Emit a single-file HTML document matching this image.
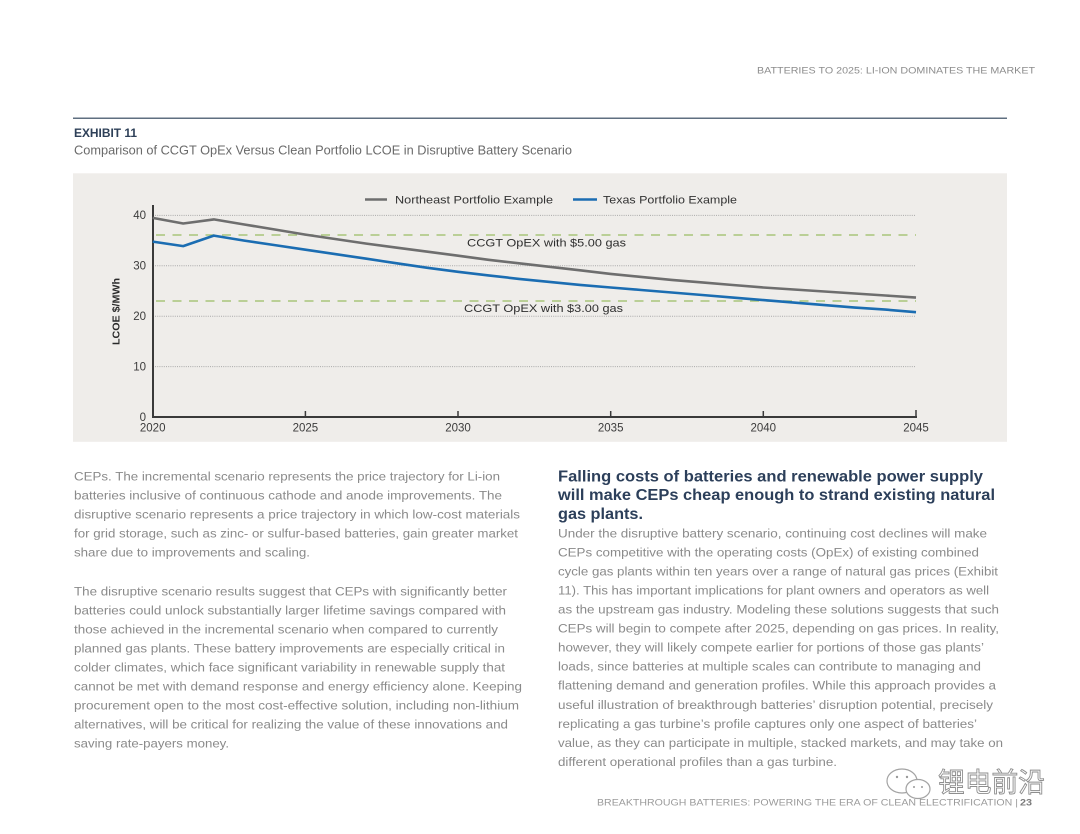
<!DOCTYPE html>
<html>
<head>
<meta charset="utf-8">
<style>
  html, body { margin:0; padding:0; background:#ffffff; }
  body { width:1080px; height:834px; overflow:hidden; }
  svg { display:block; }
  .sans { font-family:"Liberation Sans", "Noto Sans CJK SC", sans-serif; }
  .body { font-size:12.2px; fill:#8a8a8a; }
  .head { font-size:16px; font-weight:bold; fill:#2c3f5a; }
  .tick { font-size:11.5px; fill:#3c3c3c; }
</style>
</head>
<body>
<svg width="1080" height="834" viewBox="0 0 1080 834" xmlns="http://www.w3.org/2000/svg" class="sans">
  <rect width="1080" height="834" fill="#ffffff"/>

  <!-- Header -->
  <text x="757" y="73.5" font-size="9.6" fill="#8c8c8c" textLength="278" lengthAdjust="spacingAndGlyphs">BATTERIES TO 2025: LI-ION DOMINATES THE MARKET</text>
  <line x1="73" y1="118.3" x2="1007" y2="118.3" stroke="#5f6f80" stroke-width="1.5"/>

  <text x="74" y="137" font-size="11.5" font-weight="bold" fill="#2e4058" textLength="63" lengthAdjust="spacingAndGlyphs">EXHIBIT 11</text>
  <text x="74" y="154.5" font-size="12.5" fill="#6a6a6a" textLength="498" lengthAdjust="spacingAndGlyphs">Comparison of CCGT OpEx Versus Clean Portfolio LCOE in Disruptive Battery Scenario</text>

  <!-- Chart box -->
  <rect x="73" y="173.3" width="934" height="268.5" fill="#efedea"/>

  <!-- Gridlines -->
  <g stroke="#a9a9a9" stroke-width="1" stroke-dasharray="1,1.2">
    <line x1="155" y1="215.4" x2="916" y2="215.4"/>
    <line x1="155" y1="265.8" x2="916" y2="265.8"/>
    <line x1="155" y1="316.2" x2="916" y2="316.2"/>
    <line x1="155" y1="366.6" x2="916" y2="366.6"/>
  </g>

  <!-- Dashed CCGT lines -->
  <g stroke="#a8c57a" stroke-width="1.6" stroke-dasharray="9,7.5">
    <line x1="156" y1="235" x2="916" y2="235"/>
    <line x1="156" y1="301" x2="916" y2="301"/>
  </g>

  <!-- Axes -->
  <line x1="153" y1="205" x2="153" y2="418" stroke="#3a3a3a" stroke-width="2"/>
  <line x1="152" y1="417" x2="917" y2="417" stroke="#3a3a3a" stroke-width="2"/>
  <g stroke="#3a3a3a" stroke-width="1.5">
    <line x1="305.4" y1="411" x2="305.4" y2="417"/>
    <line x1="458" y1="411" x2="458" y2="417"/>
    <line x1="610.7" y1="411" x2="610.7" y2="417"/>
    <line x1="763.3" y1="411" x2="763.3" y2="417"/>
    <line x1="916" y1="410" x2="916" y2="417"/>
  </g>

  <!-- Series -->
  <polyline fill="none" stroke="#6e6e6e" stroke-width="2.6" stroke-linejoin="round"
    points="152.7,217.9 183.2,223.5 213.8,219.4 244.3,224.5 274.8,229.5 305.4,234.6 335.9,239.1 366.4,243.6 396.9,247.7 427.5,251.7 458,255.7 488.5,259.8 519.1,263.3 549.6,266.8 580.1,270.3 610.7,273.9 641.2,276.9 671.7,279.9 702.2,282.4 732.8,285 763.3,287.5 793.8,289.5 824.4,291.5 854.9,293.5 885.4,295.5 916,297.6"/>
  <polyline fill="none" stroke="#1b6db2" stroke-width="2.6" stroke-linejoin="round"
    points="152.7,241.6 183.2,246.1 213.8,235.6 244.3,240.6 274.8,245.1 305.4,249.7 335.9,254.2 366.4,258.7 396.9,263.3 427.5,267.8 458,271.8 488.5,275.4 519.1,278.9 549.6,281.9 580.1,284.9 610.7,287.5 641.2,290 671.7,292.5 702.2,295 732.8,297.6 763.3,300.1 793.8,302.6 824.4,305.1 854.9,307.6 885.4,309.6 916,312.2"/>

  <!-- Legend -->
  <line x1="365" y1="199.5" x2="387" y2="199.5" stroke="#6e6e6e" stroke-width="2.6"/>
  <text x="395" y="203.3" font-size="11" fill="#333" textLength="158" lengthAdjust="spacingAndGlyphs">Northeast Portfolio Example</text>
  <line x1="573" y1="199.5" x2="597" y2="199.5" stroke="#1b6db2" stroke-width="2.6"/>
  <text x="603" y="203.3" font-size="11" fill="#333" textLength="134" lengthAdjust="spacingAndGlyphs">Texas Portfolio Example</text>

  <!-- CCGT labels -->
  <text x="467" y="246.7" font-size="11" fill="#2e2e2e" textLength="159" lengthAdjust="spacingAndGlyphs">CCGT OpEX with $5.00 gas</text>
  <text x="464" y="312" font-size="11" fill="#2e2e2e" textLength="159" lengthAdjust="spacingAndGlyphs">CCGT OpEX with $3.00 gas</text>

  <!-- Y tick labels -->
  <g class="tick" text-anchor="end">
    <text x="146" y="219.2">40</text>
    <text x="146" y="269.6">30</text>
    <text x="146" y="320">20</text>
    <text x="146" y="370.4">10</text>
    <text x="146" y="420.8">0</text>
  </g>
  <!-- X tick labels -->
  <g class="tick" text-anchor="middle">
    <text x="152.7" y="431.3">2020</text>
    <text x="305.4" y="431.3">2025</text>
    <text x="458" y="431.3">2030</text>
    <text x="610.7" y="431.3">2035</text>
    <text x="763.3" y="431.3">2040</text>
    <text x="916" y="431.3">2045</text>
  </g>
  <text transform="translate(119.5,311.5) rotate(-90)" text-anchor="middle" font-size="10" font-weight="bold" fill="#2a2a2a" textLength="67" lengthAdjust="spacingAndGlyphs">LCOE $/MWh</text>

  <!-- Left column body -->
  <g class="body">
    <text x="74" y="480.3" textLength="426" lengthAdjust="spacingAndGlyphs">CEPs. The incremental scenario represents the price trajectory for Li-ion</text>
    <text x="74" y="499.3" textLength="428" lengthAdjust="spacingAndGlyphs">batteries inclusive of continuous cathode and anode improvements. The</text>
    <text x="74" y="518.3" textLength="446" lengthAdjust="spacingAndGlyphs">disruptive scenario represents a price trajectory in which low-cost materials</text>
    <text x="74" y="537.3" textLength="444" lengthAdjust="spacingAndGlyphs">for grid storage, such as zinc- or sulfur-based batteries, gain greater market</text>
    <text x="74" y="556.3" textLength="236" lengthAdjust="spacingAndGlyphs">share due to improvements and scaling.</text>

    <text x="74" y="595.3" textLength="433" lengthAdjust="spacingAndGlyphs">The disruptive scenario results suggest that CEPs with significantly better</text>
    <text x="74" y="614.3" textLength="432" lengthAdjust="spacingAndGlyphs">batteries could unlock substantially larger lifetime savings compared with</text>
    <text x="74" y="633.3" textLength="424" lengthAdjust="spacingAndGlyphs">those achieved in the incremental scenario when compared to currently</text>
    <text x="74" y="652.3" textLength="431" lengthAdjust="spacingAndGlyphs">planned gas plants. These battery improvements are especially critical in</text>
    <text x="74" y="671.3" textLength="431" lengthAdjust="spacingAndGlyphs">colder climates, which face significant variability in renewable supply that</text>
    <text x="74" y="690.3" textLength="448" lengthAdjust="spacingAndGlyphs">cannot be met with demand response and energy efficiency alone. Keeping</text>
    <text x="74" y="709.3" textLength="445" lengthAdjust="spacingAndGlyphs">procurement open to the most cost-effective solution, including non-lithium</text>
    <text x="74" y="728.3" textLength="434" lengthAdjust="spacingAndGlyphs">alternatives, will be critical for realizing the value of these innovations and</text>
    <text x="74" y="747.3" textLength="155" lengthAdjust="spacingAndGlyphs">saving rate-payers money.</text>
  </g>

  <!-- Right column heading -->
  <g class="head">
    <text x="558" y="481.3" textLength="425" lengthAdjust="spacingAndGlyphs">Falling costs of batteries and renewable power supply</text>
    <text x="558" y="500" textLength="437" lengthAdjust="spacingAndGlyphs">will make CEPs cheap enough to strand existing natural</text>
    <text x="558" y="518.8" textLength="85" lengthAdjust="spacingAndGlyphs">gas plants.</text>
  </g>

  <!-- Right column body -->
  <g class="body">
    <text x="558" y="537.3" textLength="429" lengthAdjust="spacingAndGlyphs">Under the disruptive battery scenario, continuing cost declines will make</text>
    <text x="558" y="556.3" textLength="421" lengthAdjust="spacingAndGlyphs">CEPs competitive with the operating costs (OpEx) of existing combined</text>
    <text x="558" y="575.3" textLength="440" lengthAdjust="spacingAndGlyphs">cycle gas plants within ten years over a range of natural gas prices (Exhibit</text>
    <text x="558" y="594.3" textLength="431" lengthAdjust="spacingAndGlyphs">11). This has important implications for plant owners and operators as well</text>
    <text x="558" y="613.3" textLength="441" lengthAdjust="spacingAndGlyphs">as the upstream gas industry. Modeling these solutions suggests that such</text>
    <text x="558" y="632.3" textLength="441" lengthAdjust="spacingAndGlyphs">CEPs will begin to compete after 2025, depending on gas prices. In reality,</text>
    <text x="558" y="651.3" textLength="426" lengthAdjust="spacingAndGlyphs">however, they will likely compete earlier for portions of those gas plants’</text>
    <text x="558" y="670.3" textLength="423" lengthAdjust="spacingAndGlyphs">loads, since batteries at multiple scales can contribute to managing and</text>
    <text x="558" y="689.3" textLength="438" lengthAdjust="spacingAndGlyphs">flattening demand and generation profiles. While this approach provides a</text>
    <text x="558" y="708.8" textLength="435" lengthAdjust="spacingAndGlyphs">useful illustration of breakthrough batteries’ disruption potential, precisely</text>
    <text x="558" y="727.8" textLength="419" lengthAdjust="spacingAndGlyphs">replicating a gas turbine’s profile captures only one aspect of batteries’</text>
    <text x="558" y="746.8" textLength="445" lengthAdjust="spacingAndGlyphs">value, as they can participate in multiple, stacked markets, and may take on</text>
    <text x="558" y="765.8" textLength="279" lengthAdjust="spacingAndGlyphs">different operational profiles than a gas turbine.</text>
  </g>

  <!-- Footer -->
  <text x="597" y="805.3" font-size="9.6" fill="#9a9a9a" textLength="421" lengthAdjust="spacingAndGlyphs">BREAKTHROUGH BATTERIES: POWERING THE ERA OF CLEAN ELECTRIFICATION |</text>
  <text x="1020" y="805.3" font-size="9.6" font-weight="bold" fill="#7a7a7a" textLength="12" lengthAdjust="spacingAndGlyphs">23</text>

  <!-- Watermark -->
  <g stroke="#9a9a9a" stroke-width="1.2" fill="#ffffff" opacity="0.9">
    <ellipse cx="902" cy="781" rx="15" ry="12"/>
    <ellipse cx="918" cy="789" rx="12" ry="9.5"/>
  </g>
  <g fill="#9a9a9a">
    <circle cx="897" cy="777" r="1.2"/>
    <circle cx="907" cy="777" r="1.2"/>
    <circle cx="914" cy="787" r="1"/>
    <circle cx="922" cy="787" r="1"/>
  </g>
  <text x="938" y="792" font-size="27" fill="#ffffff" stroke="#8e8e8e" stroke-width="0.9" font-family="'Noto Sans CJK SC', 'WenQuanYi Zen Hei', sans-serif" textLength="107" lengthAdjust="spacingAndGlyphs">锂电前沿</text>
</svg>
</body>
</html>
